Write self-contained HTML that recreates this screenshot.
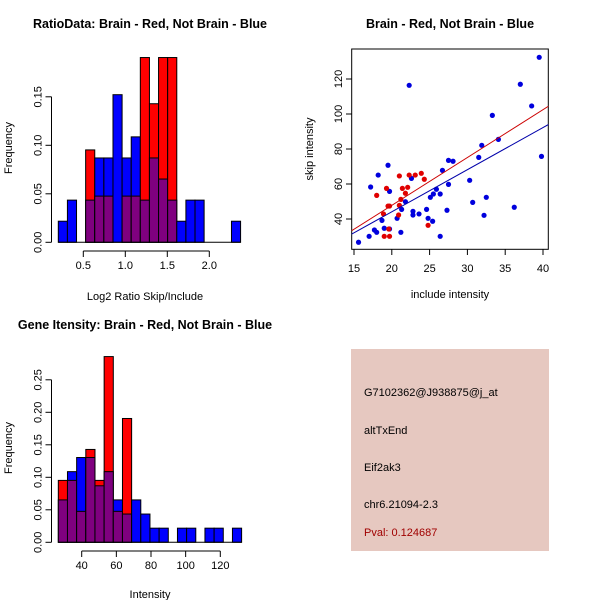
<!DOCTYPE html>
<html><head><meta charset="utf-8"><style>
body{margin:0;background:#fff}
svg text{font-family:"Liberation Sans","DejaVu Sans",sans-serif;font-size:11px;fill:#000}
.t{font-weight:bold;font-size:12.5px}
</style></head><body>
<svg id="s" width="600" height="600" viewBox="0 0 600 600" xmlns="http://www.w3.org/2000/svg">
<rect width="600" height="600" fill="#fff"/>
<text class="t" x="150" y="28" text-anchor="middle">RatioData: Brain - Red, Not Brain - Blue</text>
<text class="t" x="450" y="28" text-anchor="middle">Brain - Red, Not Brain - Blue</text>
<text class="t" x="145" y="329" text-anchor="middle">Gene Itensity: Brain - Red, Not Brain - Blue</text>
<text x="145" y="300" text-anchor="middle">Log2 Ratio Skip/Include</text>
<text x="150" y="598" text-anchor="middle">Intensity</text>
<text x="450" y="298" text-anchor="middle">include intensity</text>
<text transform="translate(12,148) rotate(-90)" text-anchor="middle">Frequency</text>
<text transform="translate(12,448) rotate(-90)" text-anchor="middle">Frequency</text>
<text transform="translate(313,149) rotate(-90)" text-anchor="middle">skip intensity</text>
<g>
<rect x="351" y="349" width="198" height="202" fill="#e6c8c0"/>
<text x="364" y="396">G7102362@J938875@j_at</text>
<text x="364" y="434">altTxEnd</text>
<text x="364" y="471">Eif2ak3</text>
<text x="364" y="508">chr6.21094-2.3</text>
<text x="364" y="536" fill="#a00000" style="fill:#a00000">Pval: 0.124687</text>
</g>
<g id="h1"></g><g id="h2"></g><g id="sc"></g>
</svg>
<script>
const ratioBlue=[1,2,0,2,4,4,7,4,5,2,4,3,2,1,2,2,0,0,0,1];
const ratioRed=[0,0,0,2,1,1,0,1,1,4,3,4,4,0,0,0,0,0,0,0];
const ratioTicks=[0.5,1.0,1.5,2.0];
const ratioYTicks=[0,0.05,0.10,0.15];
const intBlue=[3,5,6,6,4,5,3,2,3,2,1,1,0,1,1,0,1,1,0,1];
const intRed=[2,2,1,3,2,6,1,4,0,0,0,0,0,0,0,0,0,0,0,0];
const intTicks=[40,60,80,100,120];
const intYTicks=[0,0.05,0.10,0.15,0.20,0.25];
const blueX=[15.6,17.0,17.7,18.0,18.7,19.0,19.7,17.2,18.2,19.5,19.7,20.7,21.2,21.3,21.8,22.3,22.6,22.8,22.8,23.6,24.6,24.8,25.1,25.4,25.5,25.9,26.4,26.4,26.7,27.3,27.5,27.5,28.1,30.3,30.7,31.5,31.9,32.2,32.5,33.3,34.1,36.2,37.0,38.5,39.5,39.8];
const blueY=[26.7,30.1,33.7,32.4,39.2,34.7,34.3,58.3,65.1,70.7,55.8,40.4,32.4,45.5,49.9,116.4,63.2,44.4,42.3,42.9,45.5,40.4,52.4,38.7,54.3,57.0,54.3,30.1,67.8,45.0,59.8,73.5,73.0,62.1,49.5,75.2,82.1,42.1,52.4,99.2,85.5,46.7,117.0,104.6,132.4,75.8];
const redX=[18.0,19.3,18.9,19.5,19.7,19.0,19.7,19.6,20.9,21.0,21.0,21.2,21.4,21.8,22.1,22.3,23.1,23.9,24.3,24.8];
const redY=[53.5,57.5,42.9,47.4,47.4,30.1,30.1,34.3,42.3,47.8,64.6,51.2,57.5,54.7,58.1,65.1,65.1,66.1,62.7,36.4];
const scXTicks=[15,20,25,30,35,40];
const scYTicks=[40,60,80,100,120];
const NS="http://www.w3.org/2000/svg";
function mk(p,t,a){const e=document.createElementNS(NS,t);for(const k in a)e.setAttribute(k,a[k]);p.appendChild(e);return e;}
function hist(g,blue,red,x0,bw,xs,ys,yBase,xTicks,yTicks,axisX,axisY){
 const nb=blue.reduce((a,b)=>a+b,0),nr=red.reduce((a,b)=>a+b,0);
 blue.forEach((c,i)=>{
  const fb=c/nb,fr=red[i]/nr;const L=xs(x0+i*bw),R=xs(x0+(i+1)*bw);
  const hi=Math.max(fb,fr),lo=Math.min(fb,fr);
  if(hi>0){const r=mk(g,'rect',{x:L,y:ys(hi),width:R-L,height:yBase-ys(hi),fill:fb>=fr?'#0000ff':'#ff0000',stroke:'#000','stroke-width':1});
   
   }
  if(lo>0){const r=mk(g,'rect',{x:L,y:ys(lo),width:R-L,height:yBase-ys(lo),fill:'#7f007f',stroke:'#000','stroke-width':1});
   
   }
 });
 mk(g,'line',{x1:xs(x0),x2:xs(x0+blue.length*bw),y1:yBase,y2:yBase,stroke:'#000'});
 mk(g,'line',{x1:xs(xTicks[0]),x2:xs(xTicks[xTicks.length-1]),y1:axisY,y2:axisY,stroke:'#000'});
 xTicks.forEach(v=>{mk(g,'line',{x1:xs(v),x2:xs(v),y1:axisY,y2:axisY+6,stroke:'#000'});
  const t=mk(g,'text',{x:xs(v),y:axisY+18,'text-anchor':'middle'});t.textContent=v===Math.round(v)&&xTicks[0]<10?v.toFixed(1):String(v);
  
  });
 mk(g,'line',{x1:axisX,x2:axisX,y1:ys(yTicks[0]),y2:ys(yTicks[yTicks.length-1]),stroke:'#000'});
 yTicks.forEach(v=>{mk(g,'line',{x1:axisX,x2:axisX-6,y1:ys(v),y2:ys(v),stroke:'#000'});
  const t=mk(g,'text',{transform:`translate(${axisX-10},${ys(v)}) rotate(-90)`,'text-anchor':'middle'});t.textContent=v.toFixed(2);
  
  });
}
const h1=document.getElementById('h1');


hist(h1,ratioBlue,ratioRed,0.2024,0.1085,v=>83.3+(v-0.5)*84,v=>242.3-v*970,242.3,ratioTicks,ratioYTicks,51.5,251);
const h2=document.getElementById('h2');


hist(h2,intBlue,intRed,26.5,5.29,v=>81.7+(v-40)*1.7325,v=>542.3-v*650,542.3,intTicks,intYTicks,51.5,551);
// scatter
const sc=document.getElementById('sc');


const sx=v=>354+(v-15)*7.56, sy=v=>219-(v-40)*1.75;
mk(sc,'rect',{x:351.7,y:49,width:196.6,height:200.3,fill:'none',stroke:'#000'});
const cp=mk(sc,'clipPath',{id:'cp'});mk(cp,'rect',{x:351.7,y:49,width:196.6,height:200.3});
function fit(X,Y){const n=X.length,mx=X.reduce((a,b)=>a+b)/n,my=Y.reduce((a,b)=>a+b)/n;let sxy=0,sxx=0;X.forEach((x,i)=>{sxy+=(x-mx)*(Y[i]-my);sxx+=(x-mx)**2;});const b=sxy/sxx;return[my-b*mx,b];}
blueX.forEach((x,i)=>{const c=mk(sc,'circle',{cx:sx(x),cy:sy(blueY[i]),r:2.6,fill:'#0000dd'});
 
 });
redX.forEach((x,i)=>{const c=mk(sc,'circle',{cx:sx(x),cy:sy(redY[i]),r:2.6,fill:'#e00000'});
 
 });
[[blueX,blueY,'#0000aa','blue-fit-line'],[redX,redY,'#cc0000','red-fit-line']].forEach(([X,Y,col,nm])=>{
 const [a,b]=fit(X,Y);const l=mk(sc,'line',{x1:sx(14),y1:sy(a+b*14),x2:sx(41),y2:sy(a+b*41),stroke:col,'stroke-width':1,'clip-path':'url(#cp)'});
 
 });
scXTicks.forEach(v=>{mk(sc,'line',{x1:sx(v),x2:sx(v),y1:249.3,y2:255,stroke:'#000'});
 const t=mk(sc,'text',{x:sx(v),y:272,'text-anchor':'middle'});t.textContent=v;
 
 });
scYTicks.forEach(v=>{mk(sc,'line',{x1:351.7,x2:346,y1:sy(v),y2:sy(v),stroke:'#000'});
 const t=mk(sc,'text',{transform:`translate(342,${sy(v)}) rotate(-90)`,'text-anchor':'middle'});t.textContent=v;
 
 });
</script>
</body></html>
